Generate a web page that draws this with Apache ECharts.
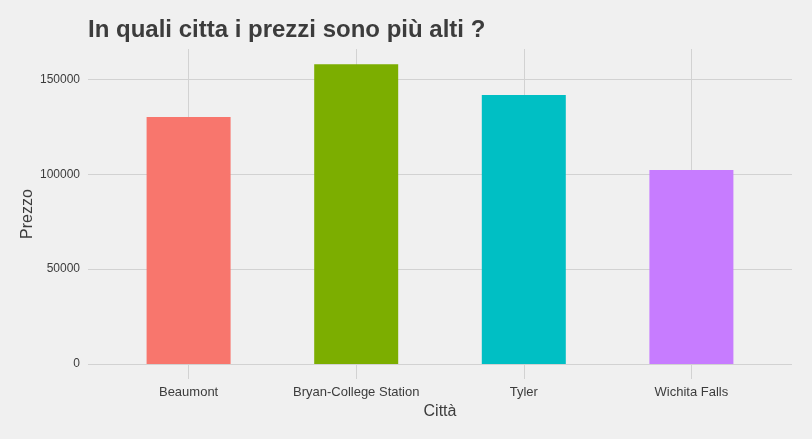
<!DOCTYPE html>
<html>
<head>
<meta charset="utf-8">
<script src="https://cdn.jsdelivr.net/npm/echarts@6/dist/echarts.min.js"></script>
<style>
  html, body { margin: 0; padding: 0; background: #f0f0f0; }
  #chart { width: 812px; height: 439px; }
</style>
</head>
<body>
<div id="chart"></div>
<script>
const cities = ['Beaumont', 'Bryan-College Station', 'Tyler', 'Wichita Falls']
const prices = [130100, 158000, 141700, 102200]
const barColors = ['#F8766D', '#7CAE00', '#00BFC4', '#C77CFF']
const yTicks = [0, 50000, 100000, 150000]

const textColor = '#3c3c3c'
const gridColor = '#d2d2d2'
const font = '"Liberation Sans", Arial, sans-serif'

const chart = echarts.init(document.getElementById('chart'))

chart.setOption({
  backgroundColor: '#f0f0f0',
  animation: false,
  textStyle: { fontFamily: font },
  // grid 0 holds the horizontal lines and y labels, grid 1 the bars
  grid: [
    { left: 88, right: 20, top: 79.3, bottom: 75 },
    { left: 188.6, right: 120.6, top: 49, bottom: 75 }
  ],
  xAxis: [
    { gridIndex: 0, type: 'value', show: false, min: 0, max: 1 },
    {
      gridIndex: 1,
      type: 'category',
      data: cities,
      boundaryGap: false,
      axisLine: { show: false },
      axisTick: { show: true, length: 15, lineStyle: { color: gridColor, width: 1 } },
      splitLine: { show: true, lineStyle: { color: gridColor, width: 1 } },
      axisLabel: { margin: 22, fontSize: 13, color: textColor, fontFamily: font }
    }
  ],
  yAxis: [
    {
      gridIndex: 0,
      type: 'value',
      min: yTicks[0],
      max: yTicks[yTicks.length - 1],
      interval: 50000,
      axisLine: { show: false },
      axisTick: { show: false },
      splitLine: { show: true, lineStyle: { color: gridColor, width: 1 } },
      axisLabel: {
        margin: 8,
        fontSize: 12,
        color: textColor,
        fontFamily: font,
        formatter: v => String(v)
      }
    },
    { gridIndex: 1, type: 'value', min: 0, max: 166000, show: false }
  ],
  series: [
    {
      type: 'bar',
      xAxisIndex: 1,
      yAxisIndex: 1,
      barWidth: 84,
      clip: false,
      data: prices.map((v, i) => ({ value: v, itemStyle: { color: barColors[i] } }))
    }
  ],
  graphic: [
    {
      type: 'text',
      left: 88,
      top: 18,
      style: {
        text: 'In quali citta i prezzi sono più alti ?',
        font: 'bold 24px ' + font,
        fill: textColor
      }
    },
    {
      type: 'text',
      x: 440,
      y: 412,
      style: {
        text: 'Città',
        font: '16px ' + font,
        fill: textColor,
        align: 'center',
        verticalAlign: 'middle'
      }
    },
    {
      type: 'text',
      x: 28,
      y: 214,
      rotation: Math.PI / 2,
      style: {
        text: 'Prezzo',
        font: '16px ' + font,
        fill: textColor,
        align: 'center',
        verticalAlign: 'middle'
      }
    }
  ]
})
</script>
</body>
</html>
